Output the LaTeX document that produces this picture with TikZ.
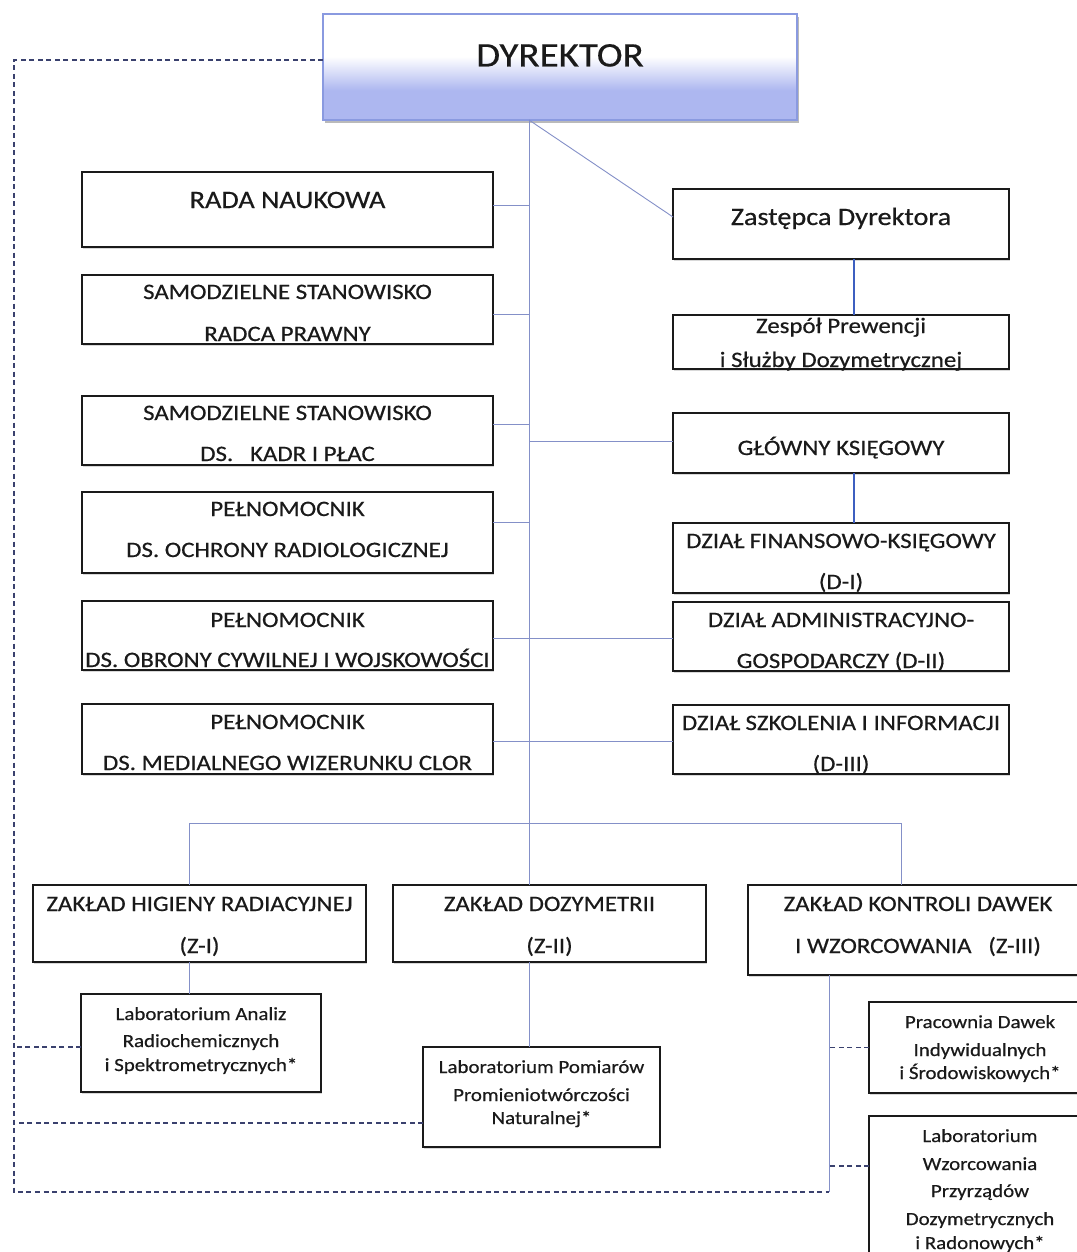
\documentclass[tikz,border=0pt]{standalone}
\usepackage{fontspec}
\setmainfont{Carlito}[FakeStretch=1.13,FakeBold=0.5]
\usetikzlibrary{shadows}
\definecolor{conn}{HTML}{8490C8}
\definecolor{connd}{HTML}{3D5FC0}
\definecolor{dshc}{HTML}{3A416E}
\definecolor{lav}{HTML}{ADB7F0}
\definecolor{dyrb}{HTML}{8A9AE0}
\definecolor{ink}{HTML}{1A1A1A}
\pgfdeclareverticalshading{dyrshade}{100bp}{color(0bp)=(lav); color(39bp)=(lav); color(55bp)=(white); color(100bp)=(white)}
\begin{document}
\begin{tikzpicture}[x=1pt,y=-1pt,
  box/.style={draw=ink, line width=1.4pt, fill=white, inner sep=0pt, outer sep=0pt,
    drop shadow={shadow xshift=1.2pt, shadow yshift=-1.5pt, fill=black!30, opacity=0.5}},
  dyrbox/.style={draw=dyrb, line width=1.2pt, shading=dyrshade, inner sep=0pt, outer sep=0pt,
    drop shadow={shadow xshift=2pt, shadow yshift=-3pt, fill=black!45, opacity=0.6}},
  t/.style={anchor=base, inner sep=0pt, text=ink},
  tA/.style={t, font=\fontsize{34.5pt}{40pt}\selectfont},
  tB/.style={t, font=\fontsize{25pt}{30pt}\selectfont},
  tC/.style={t, font=\fontsize{22pt}{26pt}\selectfont},
  tD/.style={t, font=\fontsize{18.5pt}{22pt}\selectfont},
  cn/.style={draw=conn, line width=0.9pt},
  cnd/.style={draw=connd, line width=1.3pt},
  dsh/.style={draw=dshc, line width=1.2pt, dash pattern=on 5pt off 3.5pt}]
\useasboundingbox (0,0) rectangle (1076,1252);
\fill[white] (0,0) rectangle (1076,1252);

% key coordinates
\coordinate (busl) at (189,823);
\coordinate (busm) at (529,823);
\coordinate (busr) at (901,823);
\coordinate (rx) at (854,0);
\coordinate (j1) at (529,205);
\coordinate (j2) at (529,314);
\coordinate (j3) at (529,424);
\coordinate (j4) at (529,441);
\coordinate (j5) at (529,522);
\coordinate (j6) at (529,638);
\coordinate (j7) at (529,741);
\coordinate (dl) at (14,60);
\coordinate (dlb) at (14,1192);
\coordinate (z3v) at (829,1192);

% boxes
\node[dyrbox, minimum width=474pt, minimum height=106pt] (dyr) at (560,67) {};
\node[box, minimum width=411pt, minimum height=75pt] (rada) at (287.5,209.5) {};
\node[box, minimum width=336pt, minimum height=70pt] (zast) at (841,224) {};
\node[box, minimum width=411pt, minimum height=69pt] (sam1) at (287.5,309.5) {};
\node[box, minimum width=336pt, minimum height=54pt] (zesp) at (841,342) {};
\node[box, minimum width=411pt, minimum height=69pt] (sam2) at (287.5,430.5) {};
\node[box, minimum width=336pt, minimum height=60pt] (gk) at (841,443) {};
\node[box, minimum width=411pt, minimum height=81pt] (pel1) at (287.5,532.5) {};
\node[box, minimum width=336pt, minimum height=70pt] (dfin) at (841,558) {};
\node[box, minimum width=411pt, minimum height=69pt] (pel2) at (287.5,635.5) {};
\node[box, minimum width=336pt, minimum height=69pt] (d2) at (841,636.5) {};
\node[box, minimum width=411pt, minimum height=70pt] (pel3) at (287.5,739) {};
\node[box, minimum width=336pt, minimum height=69pt] (d3) at (841,739.5) {};
\node[box, minimum width=333pt, minimum height=77pt] (z1) at (199.5,923.5) {};
\node[box, minimum width=313pt, minimum height=77pt] (z2) at (549.5,923.5) {};
\node[box, minimum width=340pt, minimum height=90pt] (z3) at (918,930) {};
\node[box, minimum width=240pt, minimum height=98pt] (lab1) at (201,1043) {};
\node[box, minimum width=237pt, minimum height=100pt] (lab2) at (541.5,1097) {};
\node[box, minimum width=222pt, minimum height=91pt] (prac) at (980,1047.5) {};
\node[box, minimum width=222pt, minimum height=174pt] (labw) at (980,1203) {};

% texts
\node[tA] (tdyr) at (560,66.5) {DYREKTOR};
\node[tB] (trada) at (287.5,208) {RADA NAUKOWA};
\node[tB] (tzast) at (841,225) {Zastępca Dyrektora};
\node[tC] (tsam1a) at (287.5,299) {SAMODZIELNE STANOWISKO};
\node[tC] (tsam1b) at (287.5,341) {RADCA PRAWNY};
\node[tC] (tzespa) at (841,333) {Zespół Prewencji};
\node[tC] (tzespb) at (841,367) {i Służby Dozymetrycznej};
\node[tC] (tsam2a) at (287.5,420) {SAMODZIELNE STANOWISKO};
\node[tC] (tsam2b) at (287.5,461) {DS.\ \ \ KADR I PŁAC};
\node[tC] (tgk) at (841,455) {GŁÓWNY KSIĘGOWY};
\node[tC] (tpel1a) at (287.5,516) {PEŁNOMOCNIK};
\node[tC] (tpel1b) at (287.5,557) {DS. OCHRONY RADIOLOGICZNEJ};
\node[tC] (tdfina) at (841,548) {DZIAŁ FINANSOWO-KSIĘGOWY};
\node[tC] (tdfinb) at (841,589) {(D-I)};
\node[tC] (tpel2a) at (287.5,627) {PEŁNOMOCNIK};
\node[tC] (tpel2b) at (287.5,667) {DS. OBRONY CYWILNEJ I WOJSKOWOŚCI};
\node[tC] (td2a) at (841,627) {DZIAŁ ADMINISTRACYJNO-};
\node[tC] (td2b) at (841,668) {GOSPODARCZY (D-II)};
\node[tC] (tpel3a) at (287.5,729) {PEŁNOMOCNIK};
\node[tC] (tpel3b) at (287.5,770) {DS. MEDIALNEGO WIZERUNKU CLOR};
\node[tC] (td3a) at (841,730) {DZIAŁ SZKOLENIA I INFORMACJI};
\node[tC] (td3b) at (841,771) {(D-III)};
\node[tC] (tz1a) at (199.5,911) {ZAKŁAD HIGIENY RADIACYJNEJ};
\node[tC] (tz1b) at (199.5,953) {(Z-I)};
\node[tC] (tz2a) at (549.5,911) {ZAKŁAD DOZYMETRII};
\node[tC] (tz2b) at (549.5,953) {(Z-II)};
\node[tC] (tz3a) at (918,911) {ZAKŁAD KONTROLI DAWEK};
\node[tC] (tz3b) at (918,953) {I WZORCOWANIA\ \ \ (Z-III)};
\node[tD] (tl1a) at (201,1020) {Laboratorium Analiz};
\node[tD] (tl1b) at (201,1047) {Radiochemicznych};
\node[tD] (tl1c) at (201,1071) {i Spektrometrycznych*};
\node[tD] (tl2a) at (541.5,1073) {Laboratorium Pomiarów};
\node[tD] (tl2b) at (541.5,1101) {Promieniotwórczości};
\node[tD] (tl2c) at (541.5,1124) {Naturalnej*};
\node[tD] (tpra) at (980,1028) {Pracownia Dawek};
\node[tD] (tprb) at (980,1056) {Indywidualnych};
\node[tD] (tprc) at (980,1079) {i Środowiskowych*};
\node[tD] (tlwa) at (980,1142) {Laboratorium};
\node[tD] (tlwb) at (980,1170) {Wzorcowania};
\node[tD] (tlwc) at (980,1197) {Przyrządów};
\node[tD] (tlwd) at (980,1225) {Dozymetrycznych};
\node[tD] (tlwe) at (980,1249) {i Radonowych*};

% solid connectors
\draw[cn] (dyr.south -| busm) -- (busm);
\draw[cn] (dyr.south -| busm) -- ([yshift=7pt]zast.west);
\draw[cn] (rada.east |- j1) -- (j1);
\draw[cn] (sam1.east |- j2) -- (j2);
\draw[cn] (sam2.east |- j3) -- (j3);
\draw[cn] (j4) -- (gk.west |- j4);
\draw[cn] (pel1.east |- j5) -- (j5);
\draw[cn] (pel2.east |- j6) -- (d2.west |- j6);
\draw[cn] (pel3.east |- j7) -- (d3.west |- j7);
\draw[cnd] (zast.south -| rx) -- (zesp.north -| rx);
\draw[cnd] (gk.south -| rx) -- (dfin.north -| rx);
\draw[cn] (busl) -- (busr);
\draw[cn] (busl) -- (z1.north -| busl);
\draw[cn] (busm) -- (z2.north -| busm);
\draw[cn] (busr) -- (z3.north -| busr);
\draw[cn] (z1.south -| busl) -- (lab1.north -| busl);
\draw[cn] (z2.south -| busm) -- (lab2.north -| busm);
\draw[cn] (z3.south -| z3v) -- (z3v);

% dashed connectors
\draw[dsh] ([yshift=7pt]dyr.west) -- (dl) -- (dlb) -- (z3v);
\draw[dsh] ([yshift=-4pt]lab1.west) -- ([yshift=-4pt]lab1.west -| dl);
\draw[dsh] ([yshift=-26pt]lab2.west) -- ([yshift=-26pt]lab2.west -| dl);
\draw[dsh] (prac.west) -- (prac.west -| z3v);
\draw[dsh] ([yshift=37pt]labw.west) -- ([yshift=37pt]labw.west -| z3v);
\end{tikzpicture}
\end{document}
